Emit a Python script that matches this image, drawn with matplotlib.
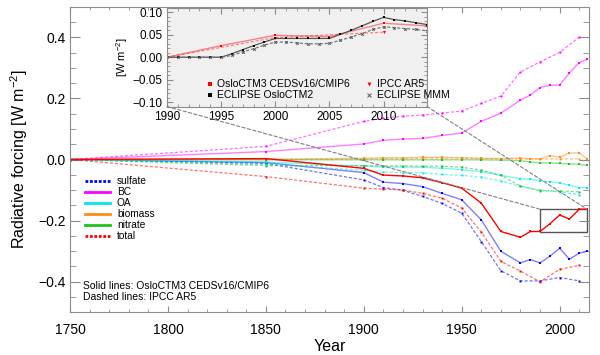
import numpy as np
import matplotlib
matplotlib.use("Agg")
import matplotlib.pyplot as plt
from matplotlib.lines import Line2D
from matplotlib.patches import Rectangle, ConnectionPatch
from matplotlib.ticker import MultipleLocator

plt.rcParams["font.family"] = ["Liberation Sans", "DejaVu Sans"]
plt.rcParams["mathtext.default"] = "regular"

# OsloCTM3 CEDSv16/CMIP6 (solid lines)
model_years = [1750, 1850, 1900, 1910, 1920, 1930, 1940, 1950, 1960, 1970,
               1980, 1985, 1990, 1995, 2000, 2005, 2010, 2014]
model_sulfate = [0, -0.010, -0.043, -0.074, -0.079, -0.089, -0.111, -0.132, -0.198, -0.301,
                 -0.339, -0.328, -0.339, -0.317, -0.291, -0.327, -0.307, -0.301]
model_bc = [0, 0.026, 0.051, 0.063, 0.067, 0.069, 0.079, 0.087, 0.125, 0.152,
            0.195, 0.211, 0.236, 0.243, 0.244, 0.284, 0.318, 0.328]
model_oa = [0, -0.008, -0.022, -0.024, -0.025, -0.025, -0.029, -0.033, -0.040, -0.052,
            -0.063, -0.065, -0.070, -0.073, -0.076, -0.085, -0.092, -0.092]
model_biomass = [0, 0.001, 0.004, 0.006, 0.006, 0.007, 0.007, 0.006, 0.004, 0.003,
                 0.004, 0.002, 0.002, 0.013, 0.008, 0.021, 0.022, 0.002]
model_nitrate = [0, -0.001, -0.001, -0.001, -0.001, -0.001, -0.001, -0.001, -0.001, -0.002,
                 -0.004, -0.008, -0.011, -0.011, -0.013, -0.014, -0.016, -0.019]
model_total = [0, 0.003, -0.029, -0.051, -0.054, -0.060, -0.076, -0.094, -0.143, -0.236,
               -0.255, -0.236, -0.236, -0.211, -0.182, -0.195, -0.163, -0.163]

# IPCC AR5 (dashed lines)
ar5_years = [1750, 1850, 1900, 1910, 1920, 1930, 1940, 1950, 1960, 1970,
             1980, 1990, 2000, 2010]
ar5_sulfate = [0, -0.013, -0.067, -0.092, -0.101, -0.121, -0.144, -0.176, -0.269, -0.365,
               -0.398, -0.398, -0.387, -0.398]
ar5_bc = [0, 0.043, 0.125, 0.135, 0.142, 0.146, 0.152, 0.159, 0.184, 0.208,
          0.287, 0.320, 0.351, 0.401]
ar5_oa = [0, -0.016, -0.035, -0.041, -0.043, -0.043, -0.049, -0.052, -0.058, -0.070,
          -0.088, -0.100, -0.106, -0.115]
ar5_biomass = [0, 0.0, 0.002, 0.003, 0.003, 0.004, 0.004, 0.004, 0.003, 0.003,
               0.002, 0.002, 0.002, 0.002]
ar5_nitrate = [0, -0.020, -0.020, -0.021, -0.021, -0.022, -0.022, -0.025, -0.035, -0.052,
               -0.087, -0.103, -0.103, -0.106]
ar5_total = [0, -0.056, -0.094, -0.097, -0.100, -0.111, -0.127, -0.159, -0.238, -0.334,
             -0.366, -0.401, -0.360, -0.347]

species = ["sulfate", "BC", "OA", "biomass", "nitrate", "total"]
colors = ["#0000ff", "#ff00ff", "#00e8e8", "#ff8c1a", "#22c022", "#ff0000"]
model_series = [model_sulfate, model_bc, model_oa, model_biomass, model_nitrate, model_total]
ar5_series = [ar5_sulfate, ar5_bc, ar5_oa, ar5_biomass, ar5_nitrate, ar5_total]

# inset: trend relative to 1990
inset_years = list(range(1990, 2015))
eclipse_ctm2 = [0, 0, 0, 0, 0, 0, 0.008, 0.017, 0.026, 0.034, 0.042, 0.042, 0.042,
                0.042, 0.042, 0.042, 0.051, 0.060, 0.070, 0.080, 0.089, 0.084, 0.081,
                0.077, 0.073]
eclipse_mmm = [0, 0, 0, 0, 0, 0, 0.004, 0.012, 0.019, 0.027, 0.034, 0.034, 0.032,
               0.030, 0.030, 0.031, 0.038, 0.045, 0.053, 0.062, 0.068, 0.066, 0.064,
               0.062, 0.059]
ceds_years = [1990, 1995, 2000, 2005, 2010, 2014]
ceds_trend = [0, 0.026, 0.049, 0.046, 0.076, 0.070]
ar5_inset_years = [1990, 2000, 2010]
ar5_trend = [0, 0.044, 0.056]

# zoom box in the main panel
box_years = [1990, 2014]
box_values = [-0.237, -0.163]

spine_col = "#8c8c8c"
fig = plt.figure(figsize=(6, 3.55), dpi=100)
ax = fig.add_axes([0.1167, 0.1211, 0.865, 0.8592])

dash = (0, (2.5, 1.5))
for name, col, mod, ar5 in zip(species, colors, model_series, ar5_series):
    ax.plot(ar5_years, ar5, color=col, lw=0.9, ls=dash, alpha=0.55)
    ax.plot(ar5_years, ar5, color=col, ls="none", marker="s", ms=1.4, mew=0)
    ax.plot(model_years, mod, color=col, lw=1.0, alpha=1.0 if name == "total" else 0.5)
    ax.plot(model_years, mod, color=col, ls="none", marker="s", ms=2.0, mew=0)

ax.add_patch(Rectangle((box_years[0], box_values[0]), box_years[1] - box_years[0],
                       box_values[1] - box_values[0], fill=False, ec="#555555", lw=1.0))

ax.set_xlim(1750, 2015)
ax.set_ylim(-0.5, 0.5)
ax.xaxis.set_major_locator(MultipleLocator(50))
ax.xaxis.set_minor_locator(MultipleLocator(10))
ax.yaxis.set_major_locator(MultipleLocator(0.2))
ax.yaxis.set_minor_locator(MultipleLocator(0.05))
ax.yaxis.set_major_formatter(plt.FuncFormatter(lambda v, p: f"{v:.1f}".replace("-", "\u2212")))
for s in ax.spines.values():
    s.set_color(spine_col)
ax.tick_params(axis="both", which="both", direction="in", top=True, right=True,
               color=spine_col, labelsize=10)
ax.tick_params(axis="x", which="major", length=4, pad=8)
ax.tick_params(axis="x", which="minor", length=2.5)
ax.tick_params(axis="y", which="major", length=7, pad=3)
ax.tick_params(axis="y", which="minor", length=4)
ax.set_xlabel("Year", fontsize=11.5, labelpad=1)
ax.set_ylabel("Radiative forcing [W m$^{-2}$]", fontsize=11.5, labelpad=6)

handles = []
for name, col in zip(species, colors):
    ls = (0, (1, 0.6)) if name in ("sulfate", "total") else "-"
    handles.append(Line2D([], [], color=col, lw=2, ls=ls, label=name))
ax.legend(handles=handles, loc="upper left", bbox_to_anchor=(0.028, 0.445),
          frameon=False, fontsize=7.3, handlelength=2.5, handletextpad=0.7,
          labelspacing=0.1, borderpad=0, borderaxespad=0)
ax.text(0.025, 0.085, "Solid lines: OsloCTM3 CEDSv16/CMIP6", transform=ax.transAxes,
        fontsize=7.5, va="center")
ax.text(0.025, 0.049, "Dashed lines: IPCC AR5", transform=ax.transAxes,
        fontsize=7.5, va="center")

# inset
axi = fig.add_axes([0.2783, 0.700, 0.4333, 0.2775])
axi.set_facecolor("#f0f0f0")
axi.plot(ceds_years, ceds_trend, color="#ff0000", lw=1.0, alpha=0.45)
axi.plot(ar5_inset_years, ar5_trend, color="#ff0000", lw=0.9, ls=dash, alpha=0.45)
axi.plot(inset_years, eclipse_ctm2, color="#555555", lw=0.9)
axi.plot(inset_years, eclipse_mmm, color="#777777", lw=0.9, ls=dash)
h_ceds, = axi.plot(ceds_years, ceds_trend, color="#ff0000", ls="none", marker="s", ms=2.0,
                   mew=0, label="OsloCTM3 CEDSv16/CMIP6")
h_ar5, = axi.plot(ar5_inset_years, ar5_trend, color="#ff0000", ls="none", marker="v", ms=2.2,
                  mew=0, label="IPCC AR5")
h_ctm2, = axi.plot(inset_years, eclipse_ctm2, color="#000000", ls="none", marker="s", ms=2.0,
                   mew=0, label="ECLIPSE OsloCTM2")
h_mmm, = axi.plot(inset_years, eclipse_mmm, color="#555555", ls="none", marker="x", ms=1.8,
                  mew=0.7, label="ECLIPSE MMM")
axi.set_xlim(1990, 2014)
axi.set_ylim(-0.11, 0.11)
axi.xaxis.set_major_locator(MultipleLocator(5))
axi.xaxis.set_minor_locator(MultipleLocator(1))
axi.yaxis.set_major_locator(MultipleLocator(0.05))
axi.yaxis.set_minor_locator(MultipleLocator(0.01))
axi.yaxis.set_major_formatter(plt.FuncFormatter(lambda v, p: f"{v:.2f}".replace("-", "\u2212")))
for s in axi.spines.values():
    s.set_color(spine_col)
axi.tick_params(axis="both", which="both", direction="in", top=True, right=True,
                color=spine_col, labelsize=8.5)
axi.tick_params(axis="both", which="major", length=4, pad=3)
axi.tick_params(axis="both", which="minor", length=2)
axi.set_ylabel("[W m$^{-2}$]", fontsize=8, labelpad=2)
axi.legend(handles=[h_ceds, h_ctm2, h_ar5, h_mmm], ncol=2, loc="lower left",
           bbox_to_anchor=(0.12, 0.0), frameon=False, fontsize=7.5, handlelength=1.0,
           handletextpad=0.2, columnspacing=1.4, labelspacing=0.1, borderpad=0.1,
           markerscale=1.3)

# dashed guide lines from inset to zoom box
for xa, xb in [(0, box_years[0]), (1, box_years[1])]:
    con = ConnectionPatch(xyA=(xa, 0), coordsA=axi.transAxes,
                          xyB=(xb, box_values[1]), coordsB=ax.transData,
                          color="#808080", lw=0.8, ls=(0, (3, 2)))
    fig.add_artist(con)

fig.savefig("out.png", dpi=100)
